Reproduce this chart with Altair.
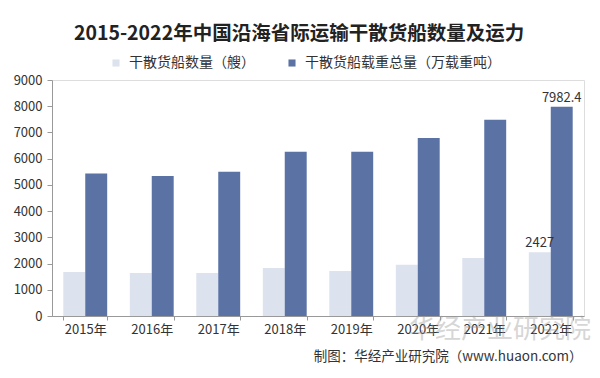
import altair as alt
import pandas as pd

years = ["2015年", "2016年", "2017年", "2018年", "2019年", "2020年", "2021年", "2022年"]
ship_count = [1680, 1640, 1640, 1830, 1720, 1950, 2210, 2427]
ship_tonnage = [5430, 5340, 5500, 6260, 6260, 6790, 7480, 7982.4]
series_names = ["干散货船数量（艘）", "干散货船载重总量（万载重吨）"]
series_colors = ["#dce3ee", "#5a72a4"]
y_ticks = [0, 1000, 2000, 3000, 4000, 5000, 6000, 7000, 8000, 9000]

rows = []
for i, y in enumerate(years):
    rows.append({"year": y, "series": series_names[0], "value": ship_count[i],
                 "label": "2427" if y == "2022年" else ""})
    rows.append({"year": y, "series": series_names[1], "value": ship_tonnage[i],
                 "label": "7982.4" if y == "2022年" else ""})
df = pd.DataFrame(rows)

FONT = "Noto Sans CJK SC"

x_enc = alt.X("year:N", sort=years,
              scale=alt.Scale(paddingInner=0.34, paddingOuter=0.17),
              axis=alt.Axis(title="制图：华经产业研究院（www.huaon.com）",
                            titleAnchor="end", titleAlign="right", titleX=530, titleY=40,
                            titleBaseline="middle", titleFontSize=13.5, titleFontWeight="normal",
                            titleColor="#333333", titleFont=FONT,
                            labelAngle=0, labelFontSize=13, labelColor="#333333", labelFont=FONT,
                            labelPadding=3, tickSize=4, tickBand="extent",
                            domainColor="#999999", tickColor="#999999", grid=False))
y_enc = alt.Y("value:Q",
              scale=alt.Scale(domain=[0, 9000]),
              axis=alt.Axis(title=None, values=y_ticks, format="d",
                            labelOverlap=False, labelFlush=False,
                            labelFontSize=13, labelColor="#333333", labelFont=FONT,
                            labelPadding=5, tickSize=5, domainColor="#999999",
                            tickColor="#999999", grid=False))
xoff = alt.XOffset("series:N", sort=series_names)

bars = alt.Chart(df).mark_bar().encode(
    x=x_enc, y=y_enc, xOffset=xoff,
    color=alt.Color("series:N", sort=series_names,
                    scale=alt.Scale(domain=series_names, range=series_colors),
                    legend=alt.Legend(title=None, orient="none", direction="horizontal",
                                      legendX=57, legendY=-24, symbolType="square",
                                      symbolSize=50, symbolStrokeWidth=0, labelLimit=400,
                                      labelFontSize=14, labelFont=FONT, labelColor="#333333",
                                      labelOffset=6, columnPadding=30)),
)

labels = alt.Chart(df).mark_text(dy=-9, fontSize=13, font=FONT, color="#333333").encode(
    x=x_enc, y=y_enc, xOffset=xoff, text="label:N"
)

watermark = alt.Chart(pd.DataFrame({"t": ["华经产业研究院"]})).mark_text(
    fontSize=26, font=FONT, color="#9a9a9a", opacity=0.4, align="center", baseline="middle"
).encode(x=alt.value(448), y=alt.value(250), text="t:N")

chart = alt.layer(bars, labels, watermark).properties(
    width=532, height=236,
    autosize=alt.AutoSizeParams(type="none"),
    padding={"left": 44, "top": 72, "right": 8, "bottom": 54},
    title=alt.Title("2015-2022年中国沿海省际运输干散货船数量及运力",
                    fontSize=19.5, font=FONT, fontWeight="bold", color="#222222",
                    anchor="middle", dx=-19, offset=12),
).configure_view(stroke=None).configure(background="white").configure_axisY(
    labelOverlap=False, values=y_ticks
)

chart.save("out.html", embed_options={"renderer": "svg", "actions": False})
